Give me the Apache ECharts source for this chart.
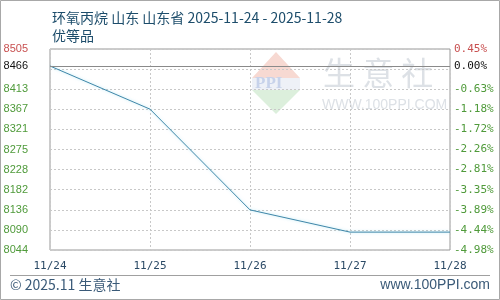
<!DOCTYPE html>
<html><head><meta charset="utf-8">
<script src="https://cdn.jsdelivr.net/npm/echarts@6/dist/echarts.min.js"></script>
<style>html,body{margin:0;padding:0;background:#fff}#c{width:500px;height:300px}</style>
</head><body><div id="c"></div>
<script>
const dates = ['11/24','11/25','11/26','11/27','11/28'];
const prices = [8466, 8367, 8136, 8085, 8085];
const baseValue = 8466;
const baseLeftLabel = '8466';
const baseRightLabel = '0.00%';
const leftTicks = ['8044','8090','8136','8182','8228','8275','8321','8367','8413','','8505'];
const rightTicks = ['-4.98%','-4.44%','-3.89%','-3.35%','-2.81%','-2.26%','-1.72%','-1.18%','-0.63%','','0.45%'];
const yMin = 8044, yMax = 8505, yStep = 46.1;
const titleLine1 = '环氧丙烷 山东 山东省 2025-11-24 - 2025-11-28';
const titleLine2 = '优等品';
const footerLeft = '© 2025.11 生意社';
const footerRight = 'www.100PPI.com';

const green = '#4f9a3a', red = '#c85050';
const chart = echarts.init(document.getElementById('c'), null, {renderer:'canvas'});
function tickColor(i){ return i === leftTicks.length - 1 ? red : green; }
chart.setOption({
  animation: false,
  grid: {left: 50, right: 50, top: 49, bottom: 50, show: true, borderColor: '#999', borderWidth: 1, backgroundColor: 'transparent'},
  title: [
    {text: titleLine1, left: 47, top: 6, textStyle: {fontSize: 14, fontWeight: 'normal', color: '#1d4d6b', fontFamily: 'Noto Sans CJK SC'}},
    {text: titleLine2, left: 47, top: 24, textStyle: {fontSize: 14, fontWeight: 'normal', color: '#1d4d6b', fontFamily: 'Noto Sans CJK SC'}}
  ],
  xAxis: {
    type: 'category', data: dates, boundaryGap: false,
    axisLine: {show: false}, axisTick: {show: false},
    axisLabel: {color: '#2b4a66', fontSize: 11, fontFamily: 'DejaVu Sans Mono', margin: 11, showMaxLabel: true, showMinLabel: true, interval: 0},
    splitLine: {show: true, lineStyle: {color: '#c8c8c8', type: [2,2]}}
  },
  yAxis: [
    {type: 'value', min: yMin, max: yMax, interval: yStep, position: 'left',
     axisLine: {show: false}, axisTick: {show: false},
     axisLabel: {margin: 22, fontSize: 11, fontFamily: 'Liberation Sans', formatter: (v, i) => leftTicks[i] ?? '',
       color: (v, i) => tickColor(i)},
     splitLine: {show: true, lineStyle: {color: '#c8c8c8', type: [2,2]}}},
    {type: 'value', min: yMin, max: yMax, interval: yStep, position: 'right',
     axisLine: {show: false}, axisTick: {show: false},
     axisLabel: {margin: 4, fontSize: 11, fontFamily: 'DejaVu Sans Mono', formatter: (v, i) => rightTicks[i] ?? '',
       color: (v, i) => tickColor(i)},
     splitLine: {show: false}}
  ],
  graphic: [
    {type: 'polygon', shape: {points: [[276,52],[300,78],[252,78]]}, style: {fill: '#f7d9d2'}, silent: true, z: 0},
    {type: 'rect', shape: {x: 252, y: 78, width: 48, height: 12}, style: {fill: '#eef1f7'}, silent: true, z: 0},
    {type: 'polygon', shape: {points: [[252,90],[300,90],[276,114]]}, style: {fill: '#dcefdc'}, silent: true, z: 0},
    {type: 'text', left: 255, top: 75, style: {text: 'PPI', font: 'bold 17px "Liberation Serif"', fill: '#c7d2ea'}, silent: true, z: 0},
    {type: 'text', left: 323, top: 57, style: {text: '生 意 社', font: '32px "Noto Sans CJK SC"', fill: '#dde1e6'}, silent: true, z: 0},
    {type: 'text', left: 322, top: 98, style: {text: 'WWW.100PPI.COM', font: '14px "Liberation Sans"', fill: '#dde1e6'}, silent: true, z: 0},
    {type: 'line', shape: {x1: 10, y1: 275.5, x2: 490, y2: 275.5}, style: {stroke: '#a0a0a0', lineWidth: 1}, silent: true},
    {type: 'text', left: 10, top: 278, style: {text: footerLeft, font: '14px "Noto Sans CJK SC"', fill: '#3a5a78'}, silent: true},
    {type: 'text', right: 10, top: 278, style: {text: footerRight, font: '14px "Liberation Sans"', fill: '#3a5a78'}, silent: true},
    {type: 'rect', shape: {x: 0.5, y: 0.5, width: 499, height: 299}, style: {fill: 'none', stroke: '#a8a8a8', lineWidth: 1}, silent: true}
  ],
  series: [{
    type: 'line', data: prices, yAxisIndex: 0, symbol: 'none', z: 3,
    lineStyle: {color: '#3f86a8', width: 1, shadowColor: 'rgba(120,210,235,0.6)', shadowBlur: 3},
    markLine: {
      silent: true, symbol: 'none', animation: false,
      lineStyle: {color: '#8a8a8a', type: 'solid', width: 1},
      data: [
        {yAxis: baseValue, label: {position: 'start', formatter: baseLeftLabel, color: '#111', fontSize: 11, fontFamily: 'Liberation Sans', distance: 22}},
        {yAxis: baseValue, label: {position: 'end', formatter: baseRightLabel, color: '#111', fontSize: 11, fontFamily: 'DejaVu Sans Mono', distance: 4}}
      ]
    }
  }]
});
</script></body></html>
